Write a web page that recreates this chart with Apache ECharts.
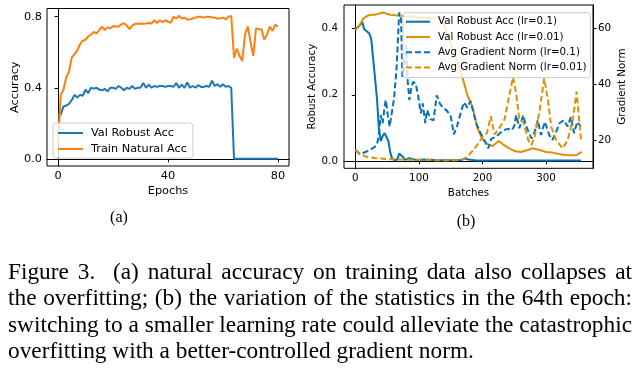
<!DOCTYPE html>
<html><head><meta charset="utf-8">
<script src="https://cdn.jsdelivr.net/npm/echarts@6/dist/echarts.min.js"></script>
<style>html,body{margin:0;padding:0;background:#fff;}#c{width:637px;height:374px;}</style>
</head><body><div id="c"></div>
<script>
// ---------- (a) accuracy per epoch ----------
const epochs = [0,1,2,3,4,5,6,7,8,9,10,11,12,13,14,15,16,17,18,19,20,21,22,23,24,25,26,27,28,29,30,31,32,33,34,35,36,37,38,39,40,41,42,43,44,45,46,47,48,49,50,51,52,53,54,55,56,57,58,59,60,61,62,63,64,65,66,67,68,69,70,71,72,73,74,75,76,77,78,79,80];
const valRobustAcc = [0.245,0.25,0.295,0.30,0.31,0.33,0.36,0.345,0.36,0.355,
  0.39,0.37,0.40,0.395,0.40,0.39,0.386,0.394,0.38,0.40,
  0.40,0.394,0.41,0.40,0.386,0.40,0.394,0.41,0.394,0.40,
  0.40,0.427,0.40,0.418,0.40,0.41,0.405,0.41,0.41,0.405,
  0.41,0.41,0.405,0.427,0.40,0.418,0.40,0.43,0.40,0.41,
  0.40,0.415,0.405,0.405,0.41,0.405,0.44,0.41,0.42,0.405,
  0.42,0.405,0.41,0.40,0,0,0,0,0,0,
  0,0,0,0,0,0,0,0,0,0,0];
const trainNaturalAcc = [0.09,0.36,0.39,0.46,0.49,0.57,0.59,0.61,0.645,0.665,
  0.67,0.69,0.70,0.714,0.706,0.725,0.744,0.725,0.74,0.735,
  0.747,0.745,0.745,0.757,0.763,0.75,0.73,0.75,0.76,0.76,
  0.762,0.76,0.762,0.765,0.762,0.78,0.765,0.78,0.77,0.78,
  0.773,0.765,0.80,0.79,0.805,0.79,0.795,0.785,0.785,0.79,
  0.795,0.80,0.80,0.795,0.80,0.80,0.795,0.795,0.79,0.79,
  0.795,0.785,0.80,0.805,0.57,0.62,0.58,0.55,0.70,0.745,
  0.66,0.58,0.735,0.73,0.73,0.67,0.70,0.745,0.72,0.755,0.745];
const epochTicks = [0,40,80];
const accTicks = [0,0.4,0.8];

// ---------- (b) statistics within the 64th epoch ----------
const robustLr01Batches = [0,4,8,11,14,18,22,25,28,31,34,37,40,43,46,49,52,55,58,62,66,69,72,75,78,85,95,110,130,150,166,172,178,190,220,260,300,355];
const robustLr01 = [0.398,0.404,0.412,0.42,0.398,0.392,0.385,0.37,0.31,0.25,0.19,0.10,0.06,0.075,0.084,0.085,0.06,0.025,0.006,0.002,0.004,0.022,0.024,0.012,0.003,0.008,0.003,0.004,0.002,0.002,0.002,0.007,0.004,0.001,0.001,0.001,0.001,0.001];
const robustLr001Batches = [0,4,8,12,16,20,25,30,35,40,45,50,55,60,65,70,75,80,90,100,110,120,130,140,150,160,168,176,184,192,200,208,216,222,226,232,240,250,260,270,278,290,300,310,320,330,340,348,356];
const robustLr001 = [0.398,0.403,0.415,0.43,0.435,0.44,0.442,0.442,0.444,0.447,0.449,0.444,0.442,0.441,0.44,0.44,0.438,0.437,0.436,0.434,0.433,0.433,0.433,0.41,0.355,0.305,0.256,0.20,0.165,0.10,0.065,0.05,0.045,0.055,0.06,0.05,0.04,0.03,0.027,0.032,0.038,0.033,0.027,0.025,0.021,0.018,0.017,0.018,0.027];
const gradLr01Batches = [0,7,17,27,34,37,40,43,46,48,51,54,58,61,65,69,72,74,77,80,82,85,88,91,95,99,103,106,110,113,118,123,128,133,138,144,150,155,160,166,171,176,181,186,191,197,204,209,214,220,225,233,240,246,250,253,258,264,269,277,282,287,292,298,305,310,316,321,328,334,339,344,349,355];
const gradLr01 = [16.4,15.0,15.8,17.0,18.2,21.8,28.9,26,31.9,34.3,28.9,24.8,30.7,34.9,46.2,65.6,63,42.6,46,54,42,34.3,38.6,40.8,40.2,35.5,29.5,33.1,26,30.7,27.5,27,36,33,31.5,30.5,28.5,22,25,30,33.5,31.5,34,29.5,25.5,22.4,19.5,17,20.5,21,22,23.5,24,23.5,25,28.9,24.2,28.9,24.8,20.5,23,27.1,21.8,26.5,21.8,20,23,26,27.1,24.8,28.3,22.4,26.5,24.8];
const gradLr001Batches = [0,7,17,33,50,80,110,140,165,172,178,186,194,201,207,213,219,227,235,240,248,253,258,264,272,277,282,290,297,303,308,316,326,334,342,348,355];
const gradLr001 = [16.4,15.2,14.0,13.5,13.2,13.0,12.9,12.7,12.9,13.4,14.5,16.5,19,21.5,22.5,28.5,22,24.5,27.5,33.5,42.5,36.7,27.1,26.5,20,18.2,21.2,30.7,42,34.3,24.8,20,17,20,27.1,37.3,20];
const batchTicks = [0,100,200,300];
const robustTicks = [0,0.2,0.4];
const gradTicks = [20,40,60];

const captionLines = [
  'Figure 3.  (a) natural accuracy on training data also collapses at',
  'the overfitting; (b) the variation of the statistics in the 64th epoch:',
  'switching to a smaller learning rate could alleviate the catastrophic',
  'overfitting with a better-controlled gradient norm.'
];

const zip = (xs, ys) => xs.map((x, i) => [x, ys[i]]);
const SANS = "'DejaVu Sans', sans-serif";
const SERIF = "'Liberation Serif', 'Times New Roman', serif";
const C = { b1: '#1f77b4', o1: '#ff7f0e', b2: '#0173b2', o2: '#de8f05' };

function valAxis(o) {
  const fs = o.fs;
  return Object.assign({
    type: 'value', scale: false,
    axisLine: { show: true, lineStyle: { color: '#000', width: 1 } },
    axisTick: { show: true, length: 3.5, customValues: o.ticks, lineStyle: { color: '#000', width: 1 } },
    axisLabel: { customValues: o.ticks, color: '#000', fontFamily: SANS, fontSize: fs, margin: o.margin,
      formatter: o.fmt || (v => String(v)) },
    splitLine: { show: false },
    nameLocation: 'middle',
    nameTextStyle: { color: '#000', fontFamily: SANS, fontSize: fs }
  }, o.extra);
}

// caption layout (justified text, word by word)
function captionGraphics() {
  const ctx = document.createElement('canvas').getContext('2d');
  ctx.font = '20px ' + SERIF;
  const left = 8, right = 632;
  const natural = ctx.measureText(captionLines[2]).width;
  const fs = 20 * (right - left) / natural;
  ctx.font = fs + 'px ' + SERIF;
  const baseY = [272.5, 299, 325.5, 352];
  const els = [];
  captionLines.forEach((line, li) => {
    const words = line.split(' ');
    const widths = words.map(w => ctx.measureText(w).width);
    const total = widths.reduce((a, b) => a + b, 0);
    const gaps = words.length - 1;
    const justify = li < captionLines.length - 1;
    const gap = justify ? (right - left - total) / gaps : ctx.measureText(' ').width;
    let x = left;
    words.forEach((w, i) => {
      if (w) els.push({ type: 'text', x: x, y: baseY[li], silent: true,
        style: { text: w, fontSize: fs, fontFamily: SERIF, fill: '#000', textAlign: 'left', textVerticalAlign: 'middle', align: 'left', verticalAlign: 'middle' } });
      x += widths[i] + gap;
    });
  });
  return els;
}

const chart = echarts.init(document.getElementById('c'), null, { renderer: 'canvas' });
const lineSeries = (name, xAxisIndex, yAxisIndex, data, color, dashed) => ({
  name, type: 'line', xAxisIndex, yAxisIndex, data, symbol: 'none', showSymbol: false, smooth: false,
  animation: false, lineStyle: { color, width: 2, type: dashed ? [6, 3] : 'solid', cap: 'butt' },
  itemStyle: { color }
});
const legendBase = {
  orient: 'vertical', itemHeight: 2, selectedMode: false,
  backgroundColor: 'rgba(255,255,255,0.8)', borderColor: '#cccccc', borderWidth: 1, borderRadius: 3,
  itemStyle: { opacity: 0, borderWidth: 0 }
};

chart.setOption({
  animation: false,
  backgroundColor: '#fff',
  grid: [
    { left: 47, top: 8.5, width: 242, height: 157.5, show: true, borderColor: '#000', borderWidth: 1, backgroundColor: 'transparent' },
    { left: 344, top: 5, width: 249, height: 163.3, show: true, borderColor: '#000', borderWidth: 1, backgroundColor: 'transparent' }
  ],
  xAxis: [
    valAxis({ fs: 11.3, ticks: epochTicks, margin: 5, extra: { gridIndex: 0, min: -4, max: 84, name: 'Epochs', nameGap: 19.5 } }),
    valAxis({ fs: 10.3, ticks: batchTicks, margin: 5, extra: { gridIndex: 1, min: -17.8, max: 373.8, name: 'Batches', nameGap: 20.5 } })
  ],
  yAxis: [
    valAxis({ fs: 11.3, ticks: accTicks, margin: 5, fmt: v => v.toFixed(1), extra: { gridIndex: 0, min: -0.0403, max: 0.8463, name: 'Accuracy', nameGap: 26 } }),
    valAxis({ fs: 10.3, ticks: robustTicks, margin: 6, fmt: v => v.toFixed(1), extra: { gridIndex: 1, min: -0.02245, max: 0.47145, name: 'Robust Accuracy', nameGap: 26 } }),
    valAxis({ fs: 10.3, ticks: gradTicks, margin: 5, extra: { gridIndex: 1, position: 'right', min: 9.9, max: 68.25, name: 'Gradient Norm', nameGap: 24, nameRotate: 90 } })
  ],
  legend: [
    Object.assign({}, legendBase, { left: 53, top: 123, itemWidth: 25, itemGap: 2, padding: [3, 6, 2, 4],
      textStyle: { fontFamily: SANS, fontSize: 11.3, color: '#000', lineHeight: 14, padding: [0, 0, 0, 3] },
      data: ['Val Robust Acc', 'Train Natural Acc'] }),
    Object.assign({}, legendBase, { left: 403, top: 12.7, itemWidth: 24, itemGap: 3.3, padding: [3, 4, 4, 2],
      textStyle: { fontFamily: SANS, fontSize: 10.3, color: '#000', lineHeight: 12, padding: [0, 0, 0, 3] },
      data: ['Val Robust Acc (lr=0.1)', 'Val Robust Acc (lr=0.01)', 'Avg Gradient Norm (lr=0.1)', 'Avg Gradient Norm (lr=0.01)'] })
  ],
  series: [
    lineSeries('Val Robust Acc', 0, 0, zip(epochs, valRobustAcc), C.b1, false),
    lineSeries('Train Natural Acc', 0, 0, zip(epochs, trainNaturalAcc), C.o1, false),
    lineSeries('Val Robust Acc (lr=0.1)', 1, 1, zip(robustLr01Batches, robustLr01), C.b2, false),
    lineSeries('Val Robust Acc (lr=0.01)', 1, 1, zip(robustLr001Batches, robustLr001), C.o2, false),
    lineSeries('Avg Gradient Norm (lr=0.1)', 1, 2, zip(gradLr01Batches, gradLr01), C.b2, true),
    lineSeries('Avg Gradient Norm (lr=0.01)', 1, 2, zip(gradLr001Batches, gradLr001), C.o2, true)
  ],
  graphic: [
    { type: 'text', x: 119, y: 218, silent: true, style: { text: '(a)', fontSize: 16, fontFamily: SERIF, fill: '#000', textAlign: 'center', textVerticalAlign: 'middle', align: 'center', verticalAlign: 'middle' } },
    { type: 'text', x: 466, y: 222, silent: true, style: { text: '(b)', fontSize: 16, fontFamily: SERIF, fill: '#000', textAlign: 'center', textVerticalAlign: 'middle', align: 'center', verticalAlign: 'middle' } }
  ].concat(captionGraphics())
});
</script>
</body></html>
